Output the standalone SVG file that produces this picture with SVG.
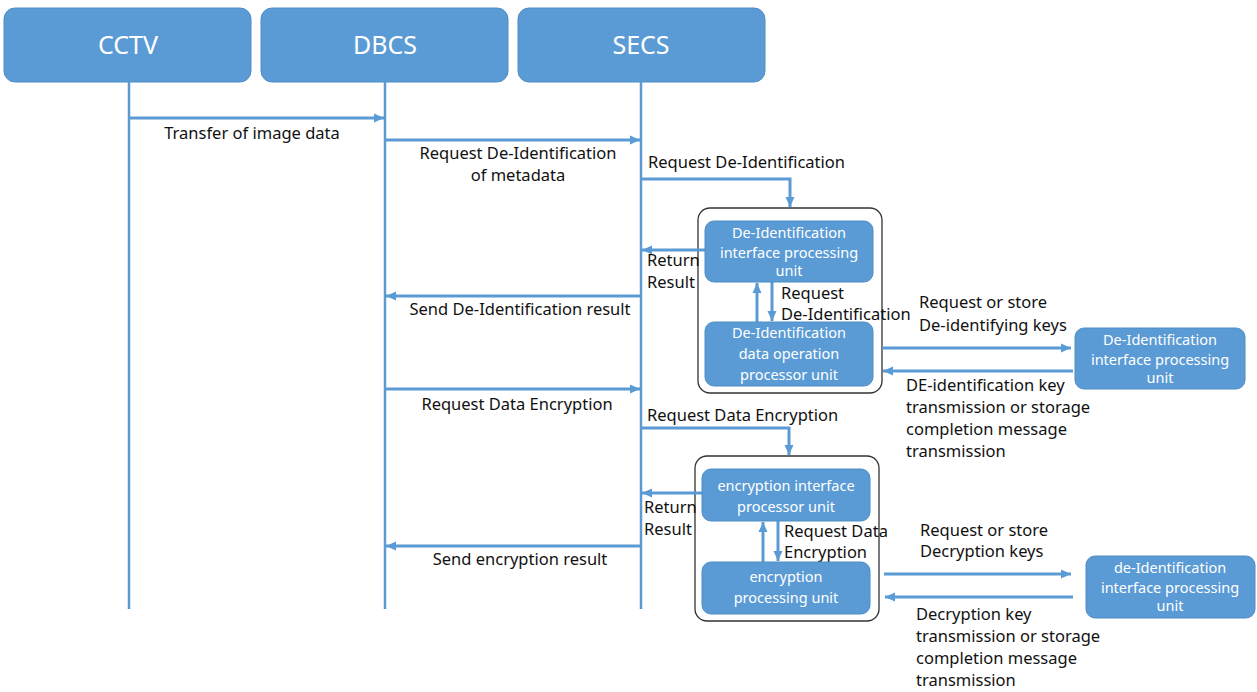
<svg xmlns="http://www.w3.org/2000/svg" width="1257" height="692" viewBox="0 0 1257 692">
<defs>
<marker id="ah" markerUnits="userSpaceOnUse" markerWidth="10" markerHeight="10" viewBox="0 0 10 10" refX="10" refY="5" orient="auto">
<path d="M0,0.5 L10,5 L0,9.5 Z" fill="#5B9BD5"/>
</marker>
<style>
.hdr{fill:#5B9BD5;stroke:#4F8CC4;stroke-width:1}
.hdrt{fill:#fff;font-family:"Noto Sans","Open Sans",sans-serif;font-size:25px;text-anchor:middle}
.life{stroke:#5B9BD5;stroke-width:2.5;fill:none}
.ar{stroke:#5B9BD5;stroke-width:3;fill:none;marker-end:url(#ah)}
.lbl{fill:#111;font-family:"Noto Sans","Open Sans",sans-serif;font-size:16.5px}
.c{text-anchor:middle}
.outer{fill:#fff;stroke:#333;stroke-width:1.3}
.box{fill:#5B9BD5;stroke:#4F8CC4;stroke-width:1}
.bt{fill:#fff;font-family:"Noto Sans","Open Sans",sans-serif;font-size:14.5px;text-anchor:middle}
</style>
</defs>

<g id="cctv"><rect class="hdr" x="4" y="8" width="247" height="74" rx="11"/><text class="hdrt" x="128" y="54">CCTV</text></g>
<g id="dbcs"><rect class="hdr" x="261" y="8" width="247" height="74" rx="11"/><text class="hdrt" x="385" y="54">DBCS</text></g>
<g id="secs"><rect class="hdr" x="518" y="8" width="247" height="74" rx="11"/><text class="hdrt" x="641" y="54">SECS</text></g>

<g id="lifelines">
<line class="life" x1="129" y1="82" x2="129" y2="609"/>
<line class="life" x1="385" y1="82" x2="385" y2="609"/>
<line class="life" x1="641" y1="82" x2="641" y2="609"/>
</g>

<g id="group1"><rect class="outer" x="698" y="208" width="184" height="185" rx="12"/></g>
<g id="group2"><rect class="outer" x="695" y="456" width="184" height="165" rx="12"/></g>

<g id="connectors">
<path class="ar" d="M129,118 H384"/>
<path class="ar" d="M385,140 H640"/>
<path class="ar" d="M641,179 H790 V207"/>
<path class="ar" d="M705,250 H642"/>
<path class="ar" d="M757,322 V283"/>
<path class="ar" d="M772,282 V321"/>
<path class="ar" d="M641,296 H386"/>
<path class="ar" d="M882,348 H1071"/>
<path class="ar" d="M1073,371 H883"/>
<path class="ar" d="M385,389 H640"/>
<path class="ar" d="M641,428 H789 V455"/>
<path class="ar" d="M702,493 H642"/>
<path class="ar" d="M763,562 V522"/>
<path class="ar" d="M778,521 V561"/>
<path class="ar" d="M641,546 H386"/>
<path class="ar" d="M884,574 H1071"/>
<path class="ar" d="M1073,597 H885"/>
</g>

<g id="labels">
<text class="lbl c" x="252" y="139">Transfer of image data</text>
<text class="lbl c" x="518" y="159">Request De-Identification</text>
<text class="lbl c" x="518" y="181">of metadata</text>
<text class="lbl" x="648" y="168">Request De-Identification</text>
<text class="lbl" x="647" y="266">Return</text>
<text class="lbl" x="647" y="288">Result</text>
<text class="lbl" x="781" y="299">Request</text>
<text class="lbl" x="781" y="320">De-Identification</text>
<text class="lbl c" x="520" y="315">Send De-Identification result</text>
<text class="lbl" x="919" y="308">Request or store</text>
<text class="lbl" x="919" y="331">De-identifying keys</text>
<text class="lbl" x="906" y="391">DE-identification key</text>
<text class="lbl" x="906" y="413">transmission or storage</text>
<text class="lbl" x="906" y="435">completion message</text>
<text class="lbl" x="906" y="457">transmission</text>
<text class="lbl c" x="517" y="410">Request Data Encryption</text>
<text class="lbl" x="647" y="421">Request Data Encryption</text>
<text class="lbl" x="644" y="513">Return</text>
<text class="lbl" x="644" y="535">Result</text>
<text class="lbl" x="784" y="537">Request Data</text>
<text class="lbl" x="784" y="558">Encryption</text>
<text class="lbl c" x="520" y="565">Send encryption result</text>
<text class="lbl" x="920" y="536">Request or store</text>
<text class="lbl" x="920" y="557">Decryption keys</text>
<text class="lbl" x="916" y="620">Decryption key</text>
<text class="lbl" x="916" y="642">transmission or storage</text>
<text class="lbl" x="916" y="664">completion message</text>
<text class="lbl" x="916" y="686">transmission</text>
</g>

<g id="deid-interface"><rect class="box" x="705" y="221" width="168" height="61" rx="9"/>
<text class="bt" x="789" y="238">De-Identification</text><text class="bt" x="789" y="258">interface processing</text><text class="bt" x="789" y="276">unit</text></g>
<g id="deid-data"><rect class="box" x="705" y="322" width="168" height="64" rx="9"/>
<text class="bt" x="789" y="338">De-Identification</text><text class="bt" x="789" y="359">data operation</text><text class="bt" x="789" y="380">processor unit</text></g>
<g id="deid-key"><rect class="box" x="1075" y="328" width="170" height="61" rx="9"/>
<text class="bt" x="1160" y="345">De-Identification</text><text class="bt" x="1160" y="365">interface processing</text><text class="bt" x="1160" y="383">unit</text></g>
<g id="enc-interface"><rect class="box" x="702" y="469" width="168" height="52" rx="9"/>
<text class="bt" x="786" y="491">encryption interface</text><text class="bt" x="786" y="512">processor unit</text></g>
<g id="enc-proc"><rect class="box" x="702" y="562" width="168" height="52" rx="9"/>
<text class="bt" x="786" y="582">encryption</text><text class="bt" x="786" y="603">processing unit</text></g>
<g id="dec-key"><rect class="box" x="1086" y="556" width="169" height="62" rx="9"/>
<text class="bt" x="1170" y="573">de-Identification</text><text class="bt" x="1170" y="593">interface processing</text><text class="bt" x="1170" y="611">unit</text></g>
</svg>
